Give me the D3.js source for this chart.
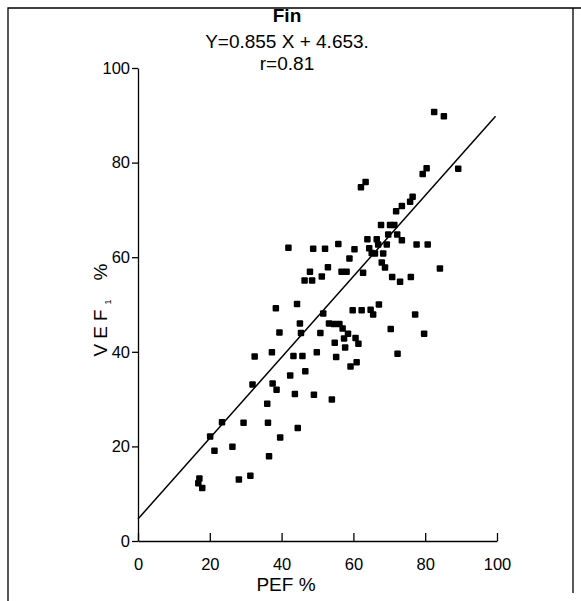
<!DOCTYPE html>
<html>
<head>
<meta charset="utf-8">
<script src="https://cdn.jsdelivr.net/npm/d3@7"></script>
<style>
  html, body { margin: 0; padding: 0; background: #fff; }
  svg { display: block; font-family: "Liberation Sans", Arial, Helvetica, sans-serif; }
</style>
</head>
<body>
<svg id="chart" width="581" height="601"></svg>
<script>
// PEF % (x) against VEF1 % (y), one entry per subject
const pef = [
  82.5, 85.2, 80.4, 79.3, 89.2, 63.4, 62.1, 76.5, 75.8, 73.5,
  71.9, 67.7, 70.2, 71.4, 69.7, 72.2, 63.9, 66.5, 66.9, 69.3,
  77.6, 80.7, 73.5, 41.9, 48.8, 52.1, 55.8, 60.3, 64.4, 65.1,
  66.0, 68.3, 58.9, 67.9, 68.8, 84.1, 47.9, 52.9, 56.7, 58.1,
  62.7, 51.2, 46.4, 48.5, 70.8, 73.0, 76.0, 44.3, 38.4, 51.6,
  59.8, 62.3, 64.8, 65.5, 67.1, 77.2, 45.1, 53.2, 54.6, 56.1,
  57.0, 58.5, 39.4, 45.4, 50.8, 70.4, 79.7, 57.4, 60.6, 61.4,
  54.8, 57.7, 72.3, 32.5, 37.3, 43.3, 45.8, 49.8, 55.2, 59.2,
  60.9, 42.4, 46.6, 31.9, 37.5, 38.6, 43.7, 49.0, 54.0, 36.0,
  23.4, 29.4, 36.2, 44.5, 20.1, 39.6, 21.3, 26.3, 36.5, 17.1,
  16.8, 17.9, 28.1, 31.3
];
const vef1 = [
  90.7, 89.8, 78.8, 77.6, 78.7, 75.9, 74.8, 72.8, 71.7, 70.8,
  69.7, 66.8, 66.8, 66.8, 64.8, 64.8, 63.8, 63.8, 62.7, 62.7,
  62.7, 62.7, 63.6, 62.0, 61.8, 61.8, 62.8, 61.7, 61.9, 60.9,
  60.8, 60.8, 59.7, 58.9, 57.8, 57.6, 56.9, 57.9, 56.9, 56.9,
  56.7, 55.9, 55.1, 55.1, 55.8, 54.8, 55.8, 50.1, 49.2, 48.1,
  48.8, 48.8, 48.9, 47.9, 50.0, 47.9, 46.0, 46.0, 45.9, 45.9,
  44.9, 43.8, 44.1, 44.0, 44.0, 44.8, 43.8, 42.8, 42.9, 41.7,
  41.9, 40.9, 39.6, 39.0, 39.9, 39.1, 39.1, 39.9, 38.9, 36.9,
  37.8, 35.0, 35.9, 33.1, 33.3, 32.0, 31.1, 30.9, 29.9, 29.0,
  25.1, 25.0, 25.0, 23.9, 22.1, 21.9, 19.1, 19.9, 17.9, 13.2,
  12.2, 11.2, 13.0, 13.8
];

// Regression fit shown in the heading
const slope = 0.855;
const intercept = 4.653;
const fitRange = [0, 99.6];

const xTicks = [0, 20, 40, 60, 80, 100];
const yTicks = [0, 20, 40, 60, 80, 100];

const svg = d3.select("#chart");

const x = d3.scaleLinear().domain([0, 100]).range([138, 497]);
const y = d3.scaleLinear().domain([0, 100]).range([541, 68]);

// outer frame
svg.append("path")
  .attr("d", "M8,601 L8,8 L581,8 M573,8 L573,593")
  .attr("fill", "none").attr("stroke", "#000").attr("stroke-width", 1.3);

// headings
const cx = 287;
svg.append("text").attr("x", cx).attr("y", 22).attr("text-anchor", "middle")
  .attr("font-size", 19).attr("font-weight", "bold").text("Fin");
svg.append("text").attr("x", cx).attr("y", 48).attr("text-anchor", "middle")
  .attr("font-size", 19).text(`Y=${slope} X + ${intercept}.`);
svg.append("text").attr("x", cx).attr("y", 70).attr("text-anchor", "middle")
  .attr("font-size", 19).text("r=0.81");

// x axis: ticks point inward
const xAxis = d3.axisBottom(x).tickValues(xTicks).tickSizeInner(-8).tickSizeOuter(0).tickPadding(17);
const gx = svg.append("g").attr("transform", `translate(0,${y(0)})`).call(xAxis);
gx.select(".domain").attr("stroke-width", 1.6);
gx.selectAll(".tick line").attr("stroke-width", 1.3);
gx.selectAll(".tick text").attr("font-size", 16.5).attr("fill", "#000")
  .attr("font-family", "Liberation Sans, Arial, sans-serif");

// y axis: ticks point outward
const yAxis = d3.axisLeft(y).tickValues(yTicks).tickSizeInner(6).tickSizeOuter(0).tickPadding(2);
const gy = svg.append("g").attr("transform", `translate(${x(0)},0)`).call(yAxis);
gy.select(".domain").attr("stroke-width", 1.3);
gy.selectAll(".tick line").attr("stroke-width", 1.3);
gy.selectAll(".tick text").attr("font-size", 16.5).attr("fill", "#000")
  .attr("font-family", "Liberation Sans, Arial, sans-serif");

// axis titles
svg.append("text").attr("x", 286).attr("y", 591).attr("text-anchor", "middle")
  .attr("font-size", 19).text("PEF %");

const yTitle = svg.append("text")
  .attr("transform", "translate(107,310) rotate(-90)")
  .attr("text-anchor", "middle").attr("font-size", 19);
yTitle.append("tspan").attr("letter-spacing", 5).text("VEF");
yTitle.append("tspan").attr("font-size", 9).attr("dy", 4).text("1");
yTitle.append("tspan").attr("dy", -4).text("\u2002\u2002%");

// regression line
const line = d3.line().x(d => x(d)).y(d => y(slope * d + intercept));
svg.append("path").datum(fitRange).attr("d", line)
  .attr("fill", "none").attr("stroke", "#000").attr("stroke-width", 1.5);

// data points as small filled squares
const s = 6.5;
svg.append("g").selectAll("rect").data(d3.range(pef.length)).join("rect")
  .attr("x", i => x(pef[i]) - s / 2)
  .attr("y", i => y(vef1[i]) - s / 2)
  .attr("width", s).attr("height", s).attr("rx", 1)
  .attr("fill", "#000");
</script>
</body>
</html>
